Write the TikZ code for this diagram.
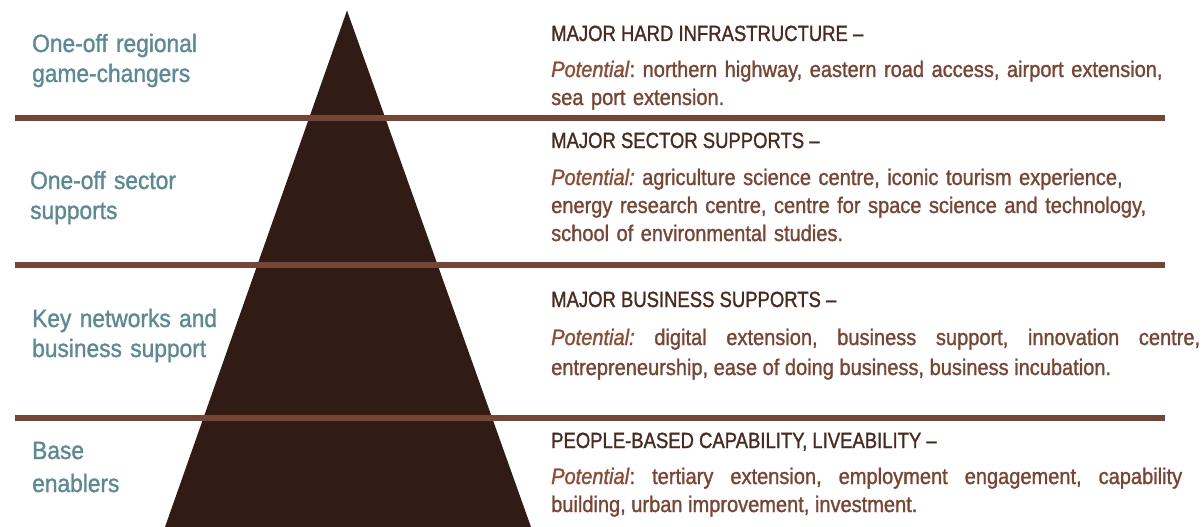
\documentclass[tikz,border=0pt]{standalone}
\usepackage{fontspec}
\setmainfont{Liberation Sans}
\newfontfamily\labelfont[FakeStretch=0.91,FakeBold=1.2]{Liberation Sans}
\newfontfamily\headfont[FakeStretch=0.84,FakeBold=1.2]{Liberation Sans}
\newfontfamily\bodyfont[FakeStretch=0.89,FakeBold=1.2]{Liberation Sans}
\usepackage{xcolor}
\definecolor{pyrbrown}{HTML}{311C15}
\definecolor{divbrown}{HTML}{764535}
\definecolor{labelteal}{HTML}{5B8A94}
\definecolor{headbrown}{HTML}{4A2A1F}
\definecolor{bodybrown}{HTML}{7A4432}
\definecolor{potred}{HTML}{8E4A32}
\newcommand{\potential}[1]{\textcolor{potred}{\textit{#1}}}
\frenchspacing

\begin{document}
\begin{tikzpicture}[x=1pt,y=-1pt,
	tier/.style={line width=5.5pt,color=divbrown},
	lefttext/.style={anchor=base west,inner sep=0pt,text width=250pt,align=left,color=labelteal,font=\labelfont\fontsize{25}{30}\selectfont},
	head/.style={anchor=base west,inner sep=0pt,color=headbrown,font=\headfont\fontsize{22}{28}\selectfont},
	body/.style={anchor=base west,inner sep=0pt,color=bodybrown,font=\bodyfont\fontsize{22.5}{28}\selectfont}]

	\useasboundingbox (0,0) rectangle (1204,527);

	% pyramid
	\fill[pyrbrown] (347,10.5) -- (531,527) -- (165,527) -- cycle;

	% tier dividers
	\draw[tier] (15,118) -- (1165,118);
	\draw[tier] (15,265) -- (1165,265);
	\draw[tier] (15,418) -- (1165,418);

	% left labels
	\node[lefttext] (game) at (32,52) {One-off regional\\game-changers};
	\node[lefttext] (sector) at (30,189) {One-off sector\\supports};
	\node[lefttext] (network) at (32,327) {Key networks and\\business support};
	\node[lefttext,font=\labelfont\fontsize{25}{33}\selectfont] (base) at (32,459) {Base\\enablers};

	% 1st tier
	\node[head] (hardhead) at (551,41) {MAJOR HARD INFRASTRUCTURE –};
	\node[body,text width=640pt,align=left] (hardbody) at (551,77)
		{\potential{Potential}: northern highway, eastern road access, airport extension,\\sea port extension.};

	% 2nd tier
	\node[head] (sectorhead) at (551,148) {MAJOR SECTOR SUPPORTS –};
	\node[body,text width=640pt,align=left] (sectorbody) at (551,185)
		{\potential{Potential:} agriculture science centre, iconic tourism experience,\\energy research centre, centre for space science and technology,\\school of environmental studies.};

	% 3rd tier
	\node[head] (bizhead) at (551,307) {MAJOR BUSINESS SUPPORTS –};
	\node[body,text width=649pt,align=justify,font=\bodyfont\fontsize{22.5}{30}\selectfont] (bizbody) at (551,345)
		{\potential{Potential:} digital extension, business support, innovation centre,\linebreak entrepreneurship, ease of doing business, business incubation.};

	% 4th tier
	\node[head] (peoplehead) at (551,448) {PEOPLE-BASED CAPABILITY, LIVEABILITY –};
	\node[body,text width=631pt,align=justify] (peoplebody) at (551,484)
		{\potential{Potential}: tertiary extension, employment engagement, capability\linebreak building, urban improvement, investment.};

\end{tikzpicture}
\end{document}
